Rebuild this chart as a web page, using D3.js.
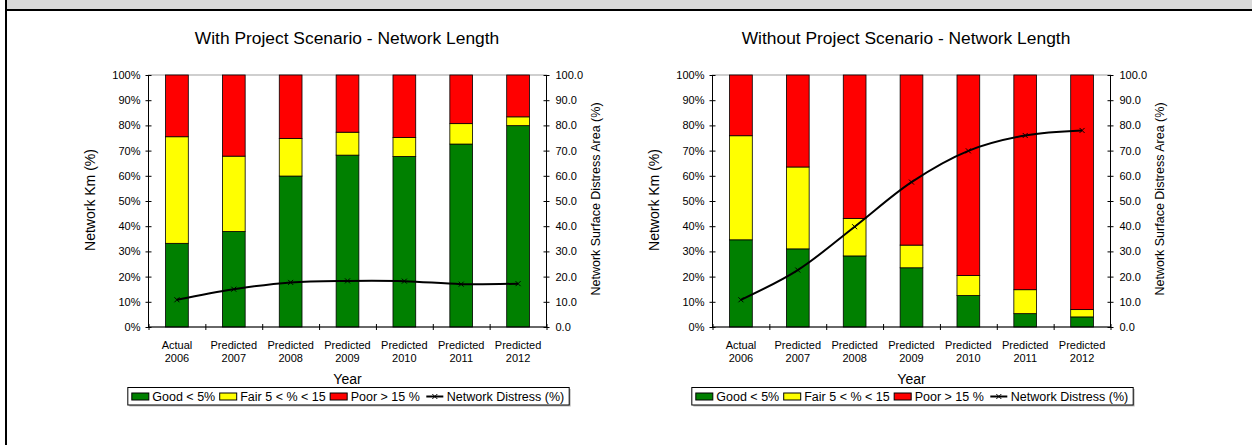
<!DOCTYPE html>
<html>
<head>
<meta charset="utf-8">
<script src="https://cdn.jsdelivr.net/npm/d3@7"></script>
<style>
  html, body { margin: 0; padding: 0; background: #fff; }
  svg { display: block; font-family: Arial, "Liberation Sans", sans-serif; }
</style>
</head>
<body>
<svg id="chart" width="1252" height="445"></svg>
<script>
// ---------- DATA ----------
const catTop  = ["Actual", "Predicted", "Predicted", "Predicted", "Predicted", "Predicted", "Predicted"];
const catYear = ["2006", "2007", "2008", "2009", "2010", "2011", "2012"];

const withGood     = [33.2, 37.9, 59.9, 68.2, 67.7, 72.6, 79.9];
const withFair     = [42.3, 29.9, 14.9,  9.1,  7.5,  8.1,  3.5];
const withPoor     = [24.5, 32.2, 25.2, 22.7, 24.8, 19.3, 16.6];
const withDistress = [10.8, 15.0, 17.7, 18.3, 18.2, 17.0, 17.2];

const withoutGood     = [34.6, 31.0, 28.2, 23.5, 12.5,  5.3,  4.0];
const withoutFair     = [41.3, 32.5, 14.9,  9.0,  7.9,  9.5,  2.9];
const withoutPoor     = [24.1, 36.5, 56.9, 67.5, 79.6, 85.2, 93.1];
const withoutDistress = [10.8, 22.6, 39.8, 57.5, 69.9, 76.0, 78.0];

const leftTicks  = [0, 10, 20, 30, 40, 50, 60, 70, 80, 90, 100];
const rightTicks = [0, 10, 20, 30, 40, 50, 60, 70, 80, 90, 100];

const seriesNames  = ["Good < 5%", "Fair 5 < % < 15", "Poor > 15 %"];
const lineName     = "Network Distress (%)";
const seriesColors = ["#008000", "#FFFF00", "#FF0000"];

const charts = [
  { title: "With Project Scenario - Network Length", good: withGood, fair: withFair, poor: withPoor, distress: withDistress },
  { title: "Without Project Scenario - Network Length", good: withoutGood, fair: withoutFair, poor: withoutPoor, distress: withoutDistress }
];

// ---------- LAYOUT ----------
const svg = d3.select("#chart");
const FONT = "Arial, 'Liberation Sans', sans-serif";

// page frame
svg.append("rect").attr("x", 7).attr("y", 0).attr("width", 1245).attr("height", 9).attr("fill", "#d9d9d9");
svg.append("rect").attr("x", 5).attr("y", 9).attr("width", 1247).attr("height", 2).attr("fill", "#000");
svg.append("rect").attr("x", 5).attr("y", 0).attr("width", 2).attr("height", 445).attr("fill", "#000");

const plotW = 398, plotH = 252, plotTop = 75;
const plotLefts = [148.5, 712.5];
const titleCx = [347, 906];

charts.forEach((c, ci) => {
  const L = plotLefts[ci];
  const g = svg.append("g").attr("transform", `translate(${L},${plotTop})`);

  const x = d3.scaleBand().domain(d3.range(catTop.length)).range([0, plotW]).padding(0);
  const xb = d3.scaleLinear().domain([0, catTop.length]).range([0, plotW]);
  const y = d3.scaleLinear().domain([0, 100]).range([plotH, 0]);
  const y2 = d3.scaleLinear().domain([0, 100]).range([plotH, 0]);

  const table = catTop.map((_, i) => ({ i, good: c.good[i], fair: c.fair[i], poor: c.poor[i] }));
  const stack = d3.stack().keys(["good", "fair", "poor"])(table);

  // plot-area border (gray)
  g.append("rect").attr("x", 0).attr("y", 0).attr("width", plotW).attr("height", plotH)
    .attr("fill", "none").attr("stroke", "#a0a0a0").attr("stroke-width", 1);

  // bars
  const bw = x.bandwidth() * 0.4;
  stack.forEach((s, si) => {
    g.append("g").selectAll("rect").data(s).join("rect")
      .attr("x", d => x(d.data.i) + (x.bandwidth() - bw) / 2)
      .attr("y", d => y(d[1]))
      .attr("width", bw)
      .attr("height", d => y(d[0]) - y(d[1]))
      .attr("fill", seriesColors[si])
      .attr("stroke", "#000").attr("stroke-width", 0.8);
  });

  // distress line
  const line = d3.line()
    .x((d, i) => x(i) + x.bandwidth() / 2)
    .y(d => y2(d))
    .curve(d3.curveCatmullRom.alpha(0.5));
  g.append("path").datum(c.distress).attr("d", line)
    .attr("fill", "none").attr("stroke", "#000").attr("stroke-width", 2);
  const mk = g.append("g").selectAll("g").data(c.distress).join("g")
    .attr("transform", (d, i) => `translate(${x(i) + x.bandwidth() / 2},${y2(d)})`);
  mk.append("path").attr("d", "M-2.5,-2.5L2.5,2.5M-2.5,2.5L2.5,-2.5")
    .attr("stroke", "#000").attr("stroke-width", 1);

  // left axis
  const ax = g.append("g").call(d3.axisLeft(y).tickValues(leftTicks).tickSize(3).tickPadding(5).tickFormat(d => d + "%"));
  ax.selectAll("line").attr("x1", 3).attr("x2", -3);
  ax.select(".domain").attr("d", `M0,0V${plotH}`);
  ax.selectAll("text").attr("font-size", 11).attr("font-family", FONT).attr("fill", "#000");

  // right axis
  const ar = g.append("g").attr("transform", `translate(${plotW},0)`)
    .call(d3.axisRight(y2).tickValues(rightTicks).tickSize(3).tickPadding(6).tickFormat(d3.format(".1f")));
  ar.selectAll("line").attr("x1", -3).attr("x2", 3);
  ar.select(".domain").attr("d", `M0,0V${plotH}`);
  ar.selectAll("text").attr("font-size", 11).attr("font-family", FONT).attr("fill", "#000");

  // bottom axis (ticks at category boundaries)
  const ab = g.append("g").attr("transform", `translate(0,${plotH})`)
    .call(d3.axisBottom(xb).tickValues(d3.range(catTop.length + 1)).tickSize(3).tickFormat(""));
  ab.selectAll("line").attr("y1", -3).attr("y2", 3);
  ab.select(".domain").attr("d", `M0,0H${plotW}`);

  // category labels
  const cl = g.append("g").selectAll("text").data(catTop).join("text")
    .attr("x", (d, i) => x(i) + x.bandwidth() / 2)
    .attr("y", plotH + 22)
    .attr("text-anchor", "middle").attr("font-size", 11).attr("font-family", FONT).attr("fill", "#000");
  cl.append("tspan").attr("x", (d, i) => x(i) + x.bandwidth() / 2).text(d => d);
  cl.append("tspan").attr("x", (d, i) => x(i) + x.bandwidth() / 2).attr("dy", 12.5).text((d, i) => catYear[i]);

  // axis titles
  g.append("text").attr("transform", `translate(-58.5,${plotH / 2 - 1}) rotate(-90)`)
    .attr("text-anchor", "middle").attr("dy", "0.35em")
    .attr("font-size", 14).attr("font-family", FONT).attr("fill", "#000").text("Network Km (%)");
  g.append("text").attr("transform", `translate(${plotW + 49},${plotH / 2 - 2}) rotate(-90)`)
    .attr("text-anchor", "middle").attr("dy", "0.35em")
    .attr("font-size", 12.5).attr("font-family", FONT).attr("fill", "#000").text("Network Surface Distress Area (%)");
  g.append("text").attr("x", plotW / 2).attr("y", plotH + 57)
    .attr("text-anchor", "middle").attr("font-size", 14).attr("font-family", FONT).attr("fill", "#000").text("Year");

  // chart title
  svg.append("text").attr("x", titleCx[ci]).attr("y", 44)
    .attr("text-anchor", "middle").attr("font-size", 17.4).attr("font-family", FONT).attr("fill", "#000").text(c.title);

  // legend
  const lg = g.append("g");
  const legY = plotH + 60.5; // top of box
  const boxH = 17.5;
  const items = lg.append("g");
  let cx = 4;
  seriesNames.forEach((name, si) => {
    items.append("rect").attr("x", cx).attr("y", legY + 5.5).attr("width", 17).attr("height", 7)
      .attr("fill", seriesColors[si]).attr("stroke", "#000").attr("stroke-width", 1);
    const t = items.append("text").attr("x", cx + 20.5).attr("y", legY + 13.5)
      .attr("font-size", 12.5).attr("font-family", FONT).attr("fill", "#000").text(name);
    cx = cx + 20.5 + t.node().getComputedTextLength() + 4.5;
  });
  cx += 2;
  items.append("line").attr("x1", cx).attr("x2", cx + 17).attr("y1", legY + 9).attr("y2", legY + 9)
    .attr("stroke", "#000").attr("stroke-width", 2);
  items.append("path").attr("d", `M${cx + 6},${legY + 6.5}L${cx + 11},${legY + 11.5}M${cx + 6},${legY + 11.5}L${cx + 11},${legY + 6.5}`)
    .attr("stroke", "#000").attr("stroke-width", 1);
  const t4 = items.append("text").attr("x", cx + 20.5).attr("y", legY + 13.5)
    .attr("font-size", 12.5).attr("font-family", FONT).attr("fill", "#000").text(lineName);
  const totalW = cx + 20.5 + t4.node().getComputedTextLength() + 5;
  const boxX = plotW / 2 + 1 - totalW / 2;
  items.attr("transform", `translate(${boxX},0)`);
  lg.insert("rect", ":first-child").attr("x", boxX + 1.5).attr("y", legY + 1.5).attr("width", totalW).attr("height", boxH)
    .attr("fill", "#bbb");
  lg.insert("rect", "g").attr("x", boxX).attr("y", legY).attr("width", totalW).attr("height", boxH)
    .attr("fill", "#fff").attr("stroke", "#000").attr("stroke-width", 1);
});
</script>
</body>
</html>
